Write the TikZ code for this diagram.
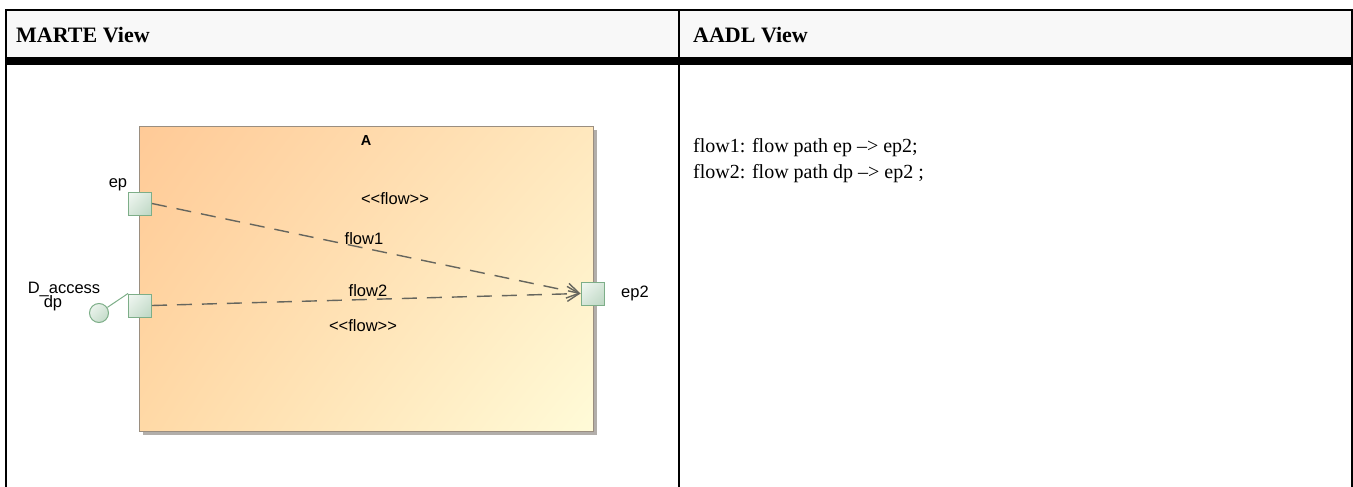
\documentclass[tikz,border=0pt]{standalone}
\usepackage{fontspec}
\setmainfont{Liberation Serif}
\setsansfont{Liberation Sans}
\usetikzlibrary{arrows.meta,shadows,shadings}

\definecolor{headgray}{HTML}{F8F8F8}
\definecolor{peach}{HTML}{FFCA97}
\definecolor{peachmid}{HTML}{FFE8BE}
\definecolor{peachlow}{HTML}{FFD9A6}
\definecolor{creamy}{HTML}{FFFBD8}
\definecolor{boxedge}{HTML}{9A8E80}
\definecolor{shadowgray}{HTML}{B2AEAA}
\definecolor{portedge}{HTML}{7DAE88}
\definecolor{portlight}{HTML}{F2F8F3}
\definecolor{portdark}{HTML}{BCD6C2}
\definecolor{flowgray}{HTML}{66665E}

\begin{document}
\begin{tikzpicture}[x=1pt, y=-1pt,
    port/.style={draw=portedge, line width=1pt, upper left=portlight, lower right=portdark,
        upper right=portlight!50!portdark, lower left=portlight!50!portdark,
        minimum size=23pt, inner sep=0pt},
    flowline/.style={draw=flowgray, line width=1.4pt, dash pattern=on 15pt off 10pt,
        -{Straight Barb[length=12pt, width=15pt]}},
    lbl/.style={font=\sffamily\fontsize{16.5}{18}\selectfont, anchor=base, inner sep=0pt},
    cell/.style={font=\fontsize{20}{24}\selectfont, anchor=base west, inner sep=0pt}]

    \useasboundingbox (0,0) rectangle (1353,487);

    % TABLE: header and rules
    \fill[headgray] (6,10.5) rectangle (1352,61);
    \draw[line width=2pt] (5,10.5) -- (1352.7,10.5);
    \draw[line width=2pt] (6,10) -- (6,487);
    \draw[line width=2pt] (679,10) -- (679,487);
    \draw[line width=2pt] (1351.7,10) -- (1351.7,487);
    \draw[line width=8pt] (5,61) -- (1352.7,61);

    \node[cell, font=\bfseries\fontsize{22}{26}\selectfont] (marte) at (16,43) {MARTE View};
    \node[cell, font=\bfseries\fontsize{22}{26}\selectfont] (aadl) at (693,43) {AADL View};

    % LEFT CELL: MARTE component A
    \node[draw=boxedge, line width=1pt, minimum width=454pt, minimum height=305pt, inner sep=0pt,
        upper left=peach, upper right=peachmid, lower left=peachlow, lower right=creamy,
        general shadow={fill=shadowgray, shadow xshift=4pt, shadow yshift=-4pt}]
        (boxA) at (366,278.5) {};
    \node[lbl, font=\sffamily\bfseries\fontsize{14.5}{16}\selectfont] (nameA) at (366,145) {A};

    % Ports
    \node[port] (ep) at (140,203.5) {};
    \node[port] (dp) at (140,305.5) {};
    \node[port] (ep2) at (592.5,293.5) {};
    \node[circle, draw=portedge, line width=1pt, upper left=portlight, lower right=portdark,
        upper right=portlight!50!portdark, lower left=portlight!50!portdark,
        minimum size=19pt, inner sep=0pt] (dpif) at (99,313) {};
    \draw[portedge, line width=1pt] (dpif) -- (dp.north west);

    % Port labels
    \node[lbl] (eplbl) at (118,187) {ep};
    \node[lbl] (dacc) at (64,293) {D\_access};
    \node[lbl] (dplbl) at (53,307) {dp};
    \node[lbl] (ep2lbl) at (635,297) {ep2};

    % Flows
    \draw[flowline] (ep.east) -- (ep2.west);
    \draw[flowline] (dp.east) -- (ep2.west);
    \node[lbl] (st1) at (395,204) {<{}<flow>{}>};
    \node[lbl] (fl1) at (364,244) {flow1};
    \node[lbl] (fl2) at (368,296) {flow2};
    \node[lbl] (st2) at (363,331) {<{}<flow>{}>};

    % RIGHT CELL: AADL text
    \node[cell] (line1) at (693,152) {flow1: flow path ep \textendash{}> ep2;};
    \node[cell] (line2) at (693,178) {flow2: flow path dp \textendash{}> ep2 ;};

\end{tikzpicture}
\end{document}
